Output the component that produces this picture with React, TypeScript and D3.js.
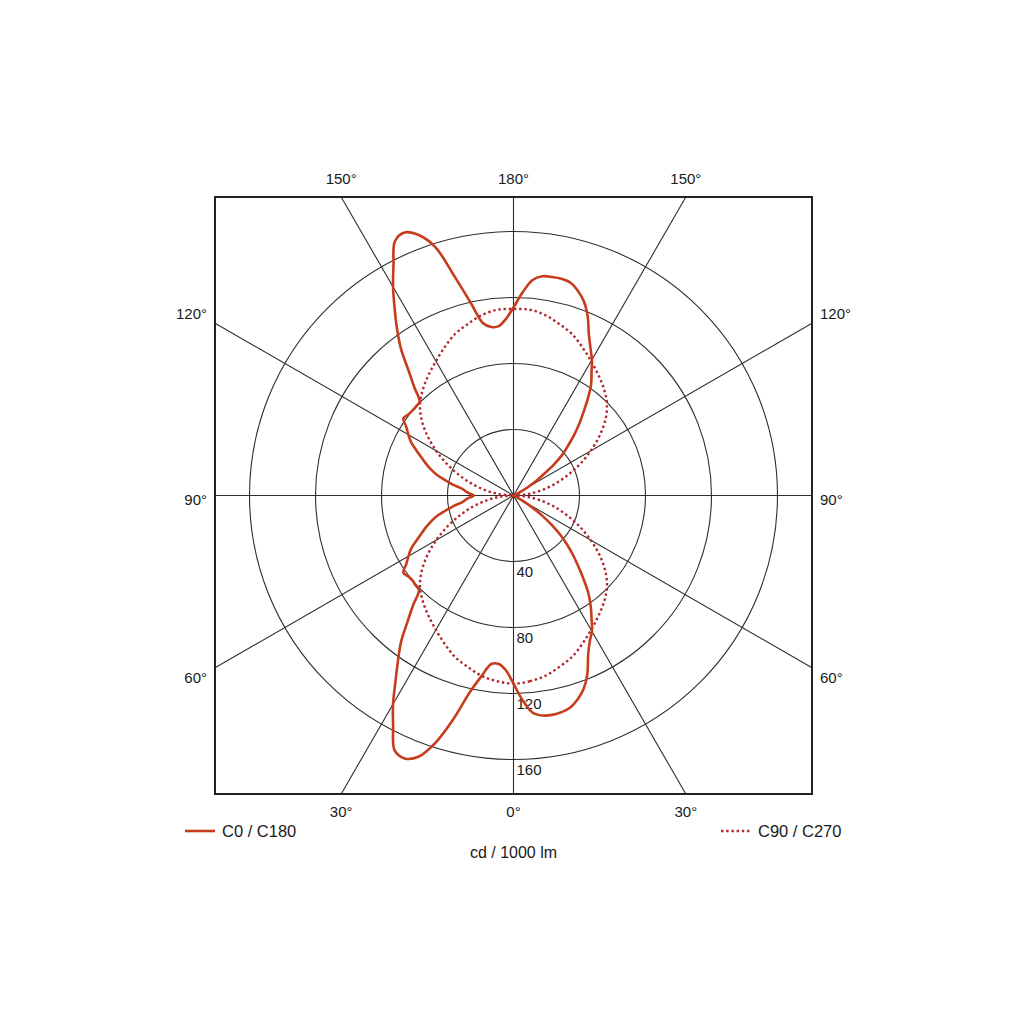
import { useEffect, useRef } from "react";
import * as d3 from "d3";

// angles (gamma, 0 = straight down, 180 = straight up)
const gammaSolid = d3.range(0, 180.01, 2.5);
const gammaDotted = d3.range(0, 180.01, 5);

// C0 plane (right half), cd / 1000 lm
const c0 = [
  114, 124, 132, 134.5, 135, 134.5, 133, 129.5, 124.5, 117,
  107, 100, 95, 88, 81.5, 74.5, 66, 58, 51, 44,
  37, 29, 21, 13, 6, 2, 0, 0, 0, 0,
  0, 0, 0, 0, 0, 0, 0, 0, 0, 0,
  0, 0, 0, 0, 0, 0, 1, 5, 10, 16,
  22, 31, 39, 45, 52, 59, 66, 74, 82, 88,
  95, 101, 108, 117.5, 125, 130, 133.5, 134.5, 134.5, 134,
  131, 123, 114,
];

// C180 plane (left half)
const c180 = [
  114, 106, 102.5, 103, 111, 122, 140, 157, 168.5, 172.5,
  170.5, 158, 146, 133, 122, 112, 100, 90, 81, 80.5,
  80, 80.5, 81.5, 77, 73.5, 70, 65, 60.5, 56.5, 52.5,
  48, 42, 37, 31.5, 29, 26.5, 24, 26.5, 29, 31.5,
  37, 42, 48, 52.5, 56.5, 60.5, 65, 70, 73.5, 77,
  81.5, 80.5, 80, 80, 80.5, 89, 99, 112, 123, 134,
  146, 157.5, 170, 172.5, 168, 158, 137, 119.5, 106, 103,
  103, 107, 114,
];

// C90 / C270 planes (same on both sides)
const c90c270 = [
  114, 113, 111, 107.5, 104, 99, 94, 89.5, 85, 80,
  73, 64, 54, 44, 34, 25, 16, 8, 0,
  8, 16, 25, 34, 44, 54, 64, 73, 80,
  85, 89.5, 94, 99, 104, 107.5, 111, 113, 113,
];

const ringValues = [40, 80, 120, 160];
const spokeAngles = [0, 30, 60, 90, 120, 150];
const angleTicks = [0, 30, 60, 90, 120, 150, 180];

const solidColor = "#c63c1c";
const dottedColor = "#b3262d";
const gridColor = "#2e2e2e";
const textColor = "#1a1a1a";
const font = "'Liberation Sans', Arial, sans-serif";

export default function App() {
  const svgRef = useRef<SVGSVGElement>(null);

  useEffect(() => {
    const svg = d3.select(svgRef.current);
    svg.selectAll("*").remove();

    const cx = 513.5;
    const cy = 495.5;
    const half = 298.5;
    const rad = Math.PI / 180;

    const r = d3.scaleLinear().domain([0, 160]).range([0, 264]);

    const g = svg.append("g").attr("transform", `translate(${cx},${cy})`);

    // rings
    g.selectAll("circle.ring")
      .data(ringValues)
      .enter()
      .append("circle")
      .attr("r", (d) => r(d))
      .attr("fill", "none")
      .attr("stroke", gridColor)
      .attr("stroke-width", 1.1);

    // spokes to box edge
    const edge = (a: number) =>
      half / Math.max(Math.abs(Math.sin(a * rad)), Math.abs(Math.cos(a * rad)));
    g.selectAll("line.spoke")
      .data(spokeAngles)
      .enter()
      .append("line")
      .attr("x1", (a) => -edge(a) * Math.sin(a * rad))
      .attr("y1", (a) => -edge(a) * Math.cos(a * rad))
      .attr("x2", (a) => edge(a) * Math.sin(a * rad))
      .attr("y2", (a) => edge(a) * Math.cos(a * rad))
      .attr("stroke", gridColor)
      .attr("stroke-width", 1.1);

    // ring labels
    g.selectAll("text.ring")
      .data(ringValues)
      .enter()
      .append("text")
      .attr("x", 3)
      .attr("y", (d) => r(d) + 15)
      .attr("font-family", font)
      .attr("font-size", 15)
      .attr("fill", textColor)
      .text((d) => d);

    // curves
    const radial = d3
      .lineRadial<[number, number]>()
      .angle((d) => d[0])
      .radius((d) => d[1])
      .curve(d3.curveCatmullRomClosed.alpha(0.5));

    const solidPts: [number, number][] = [
      ...gammaSolid.map((gm, i) => [Math.PI - gm * rad, r(c0[i])] as [number, number]),
      ...gammaSolid
        .map((gm, i) => [Math.PI + gm * rad, r(c180[i])] as [number, number])
        .slice(1, -1)
        .reverse(),
    ];
    const dottedPts: [number, number][] = [
      ...gammaDotted.map((gm, i) => [Math.PI - gm * rad, r(c90c270[i])] as [number, number]),
      ...gammaDotted
        .map((gm, i) => [Math.PI + gm * rad, r(c90c270[i])] as [number, number])
        .slice(1, -1)
        .reverse(),
    ];

    g.append("path")
      .attr("d", radial(dottedPts))
      .attr("fill", "none")
      .attr("stroke", dottedColor)
      .attr("stroke-width", 2.4)
      .attr("stroke-dasharray", "2.4 2.8");

    g.append("path")
      .attr("d", radial(solidPts))
      .attr("fill", "none")
      .attr("stroke", solidColor)
      .attr("stroke-width", 2.6)
      .attr("stroke-linejoin", "round");

    // frame
    svg
      .append("rect")
      .attr("x", cx - half)
      .attr("y", cy - half)
      .attr("width", half * 2)
      .attr("height", half * 2)
      .attr("fill", "none")
      .attr("stroke", "#222")
      .attr("stroke-width", 2);

    // angle labels
    const labels: { x: number; y: number; anchor: string; text: string }[] = [];
    angleTicks.forEach((a) => {
      const sides = a === 0 || a === 180 ? [1] : [-1, 1];
      sides.forEach((s) => {
        const sn = Math.sin(a * rad);
        const cs = Math.cos(a * rad);
        const t = edge(a);
        const px = cx + s * t * sn;
        const py = cy + t * cs;
        if (Math.abs(cs) > Math.abs(sn)) {
          labels.push({
            x: px,
            y: cs < 0 ? cy - half - 13 : cy + half + 23,
            anchor: "middle",
            text: `${a}°`,
          });
        } else {
          const nudge = a > 90 ? -4 : a < 90 ? 15 : 9;
          labels.push({
            x: s < 0 ? cx - half - 8 : cx + half + 8,
            y: py + nudge,
            anchor: s < 0 ? "end" : "start",
            text: `${a}°`,
          });
        }
      });
    });
    svg
      .selectAll("text.angle")
      .data(labels)
      .enter()
      .append("text")
      .attr("x", (d) => d.x)
      .attr("y", (d) => d.y)
      .attr("text-anchor", (d) => d.anchor)
      .attr("font-family", font)
      .attr("font-size", 15)
      .attr("fill", textColor)
      .text((d) => d.text);

    // legend
    const lg = svg.append("g");
    lg.append("line")
      .attr("x1", 185)
      .attr("x2", 215)
      .attr("y1", 831)
      .attr("y2", 831)
      .attr("stroke", solidColor)
      .attr("stroke-width", 2.6);
    lg.append("text")
      .attr("x", 222)
      .attr("y", 837)
      .attr("font-family", font)
      .attr("font-size", 16.5)
      .attr("fill", textColor)
      .text("C0 / C180");
    lg.append("line")
      .attr("x1", 721)
      .attr("x2", 750)
      .attr("y1", 831)
      .attr("y2", 831)
      .attr("stroke", dottedColor)
      .attr("stroke-width", 2.4)
      .attr("stroke-dasharray", "2.4 2.8");
    lg.append("text")
      .attr("x", 758)
      .attr("y", 837)
      .attr("font-family", font)
      .attr("font-size", 16.5)
      .attr("fill", textColor)
      .text("C90 / C270");
    lg.append("text")
      .attr("x", cx)
      .attr("y", 858)
      .attr("text-anchor", "middle")
      .attr("font-family", font)
      .attr("font-size", 16)
      .attr("fill", textColor)
      .text("cd / 1000 lm");
  }, []);

  return (
    <svg
      ref={svgRef}
      width={1024}
      height={1024}
      style={{ position: "absolute", left: 0, top: 0, background: "#fff" }}
    />
  );
}
